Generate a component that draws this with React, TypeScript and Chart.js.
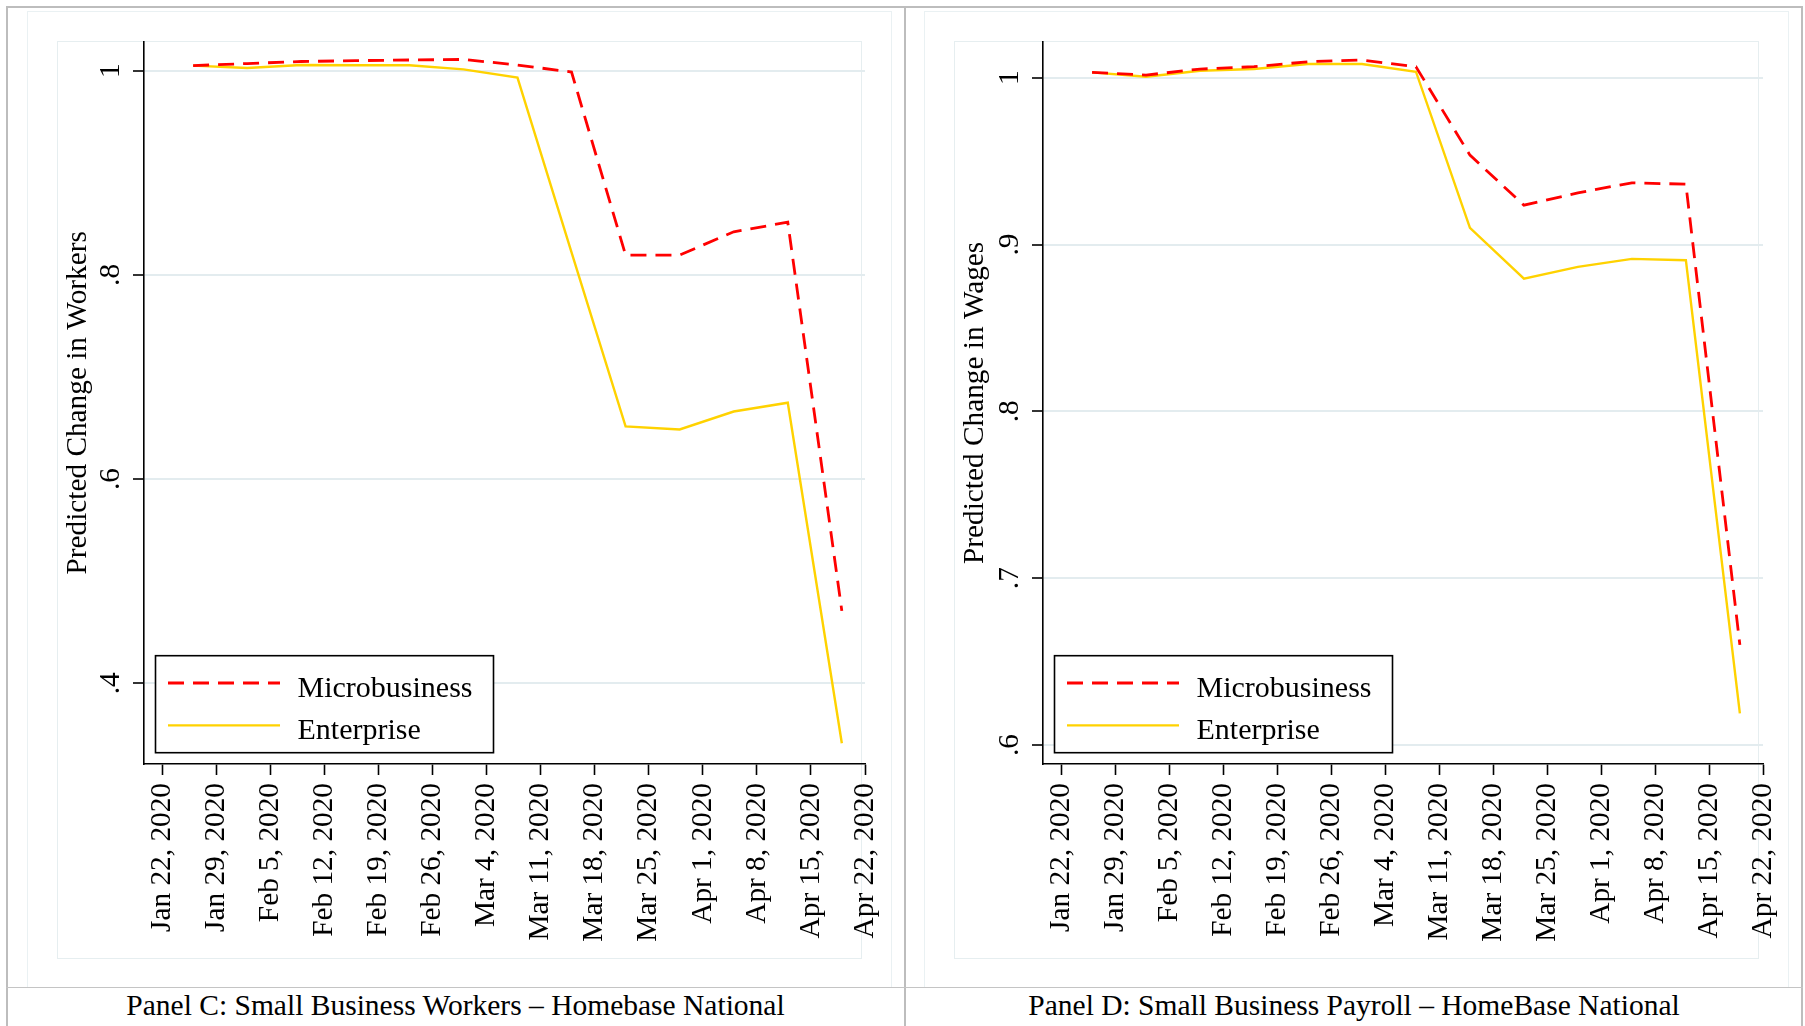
import React, { useEffect, useRef } from "react";
import { Chart, registerables } from "chart.js";

Chart.register(...registerables);

// ---------------- DATA ----------------
const weekDates = [
  "2020-01-26", "2020-02-02", "2020-02-09", "2020-02-16", "2020-02-23",
  "2020-03-01", "2020-03-08", "2020-03-15", "2020-03-22", "2020-03-29",
  "2020-04-05", "2020-04-12", "2020-04-19",
];

const workersMicro = [1.005, 1.007, 1.009, 1.0098, 1.0105, 1.011, 1.0056, 0.9987, 0.8194, 0.8194, 0.8422, 0.8516, 0.471];
const workersEnterprise = [1.005, 1.0026, 1.0056, 1.0053, 1.0053, 1.0013, 0.9932, 0.822, 0.6516, 0.6486, 0.6662, 0.6748, 0.3413];

const wagesMicro = [1.0032, 1.0016, 1.0052, 1.0066, 1.0096, 1.0106, 1.0066, 0.9536, 0.9236, 0.931, 0.937, 0.9362, 0.66];
const wagesEnterprise = [1.0032, 1.0006, 1.0042, 1.0052, 1.0082, 1.0082, 1.0036, 0.91, 0.8796, 0.8866, 0.8914, 0.8906, 0.619];

const seriesLabels = ["Microbusiness", "Enterprise"];

const xTickDates = [
  "2020-01-22", "2020-01-29", "2020-02-05", "2020-02-12", "2020-02-19", "2020-02-26",
  "2020-03-04", "2020-03-11", "2020-03-18", "2020-03-25", "2020-04-01", "2020-04-08",
  "2020-04-15", "2020-04-22",
];
const xTickLabels = [
  "Jan 22, 2020", "Jan 29, 2020", "Feb 5, 2020", "Feb 12, 2020", "Feb 19, 2020", "Feb 26, 2020",
  "Mar 4, 2020", "Mar 11, 2020", "Mar 18, 2020", "Mar 25, 2020", "Apr 1, 2020", "Apr 8, 2020",
  "Apr 15, 2020", "Apr 22, 2020",
];

const workersTicks = [0.4, 0.6, 0.8, 1];
const workersTickLabels = [".4", ".6", ".8", "1"];
const wagesTicks = [0.6, 0.7, 0.8, 0.9, 1];
const wagesTickLabels = [".6", ".7", ".8", ".9", "1"];

const workersTitle = "Predicted Change in Workers";
const wagesTitle = "Predicted Change in Wages";
const captionC = "Panel C: Small Business Workers \u2013 Homebase National";
const captionD = "Panel D: Small Business Payroll \u2013 HomeBase National";

// ---------------- HELPERS ----------------
const ORIGIN = Date.parse("2020-01-22");
const dayOf = (s: string) => (Date.parse(s) - ORIGIN) / 86400000;

const FONT = "'Liberation Serif', 'Times New Roman', serif";
const RED = "#ff0000";
const GOLD = "#ffd200";
const GRID = "#e3ecef";

const legendPlugin = {
  id: "boxLegend",
  afterDatasetsDraw(chart: any) {
    const { ctx, chartArea } = chart;
    const w = 338;
    const h = 97;
    const left = chartArea.left + 11.5;
    const top = chartArea.bottom - 11.3 - h;
    ctx.save();
    ctx.fillStyle = "#ffffff";
    ctx.fillRect(left, top, w, h);
    ctx.strokeStyle = "#000000";
    ctx.lineWidth = 1.6;
    ctx.strokeRect(left, top, w, h);
    chart.data.datasets.forEach((ds: any, i: number) => {
      const ly = top + 27.3 + i * 42.4;
      ctx.beginPath();
      ctx.setLineDash(ds.borderDash || []);
      ctx.strokeStyle = ds.borderColor;
      ctx.lineWidth = ds.borderWidth;
      ctx.moveTo(left + 12.5, ly);
      ctx.lineTo(left + 124.5, ly);
      ctx.stroke();
      ctx.setLineDash([]);
      ctx.fillStyle = "#000000";
      ctx.font = `30px ${FONT}`;
      ctx.textAlign = "left";
      ctx.textBaseline = "alphabetic";
      ctx.fillText(ds.label, left + 142, top + 41.3 + i * 42);
    });
    ctx.restore();
  },
};

function buildConfig(
  title: string,
  micro: number[],
  ent: number[],
  yMin: number,
  yMax: number,
  yTicks: number[],
  yTickLabels: string[],
  yAxisWidth: number,
  padRight: number
): any {
  const xs = weekDates.map(dayOf);
  const xTickDays = xTickDates.map(dayOf);
  return {
    type: "line",
    data: {
      datasets: [
        {
          label: seriesLabels[0],
          data: xs.map((x, i) => ({ x, y: micro[i] })),
          borderColor: RED,
          borderWidth: 2.8,
          borderDash: [16, 9],
          pointRadius: 0,
          tension: 0,
          fill: false,
        },
        {
          label: seriesLabels[1],
          data: xs.map((x, i) => ({ x, y: ent[i] })),
          borderColor: GOLD,
          borderWidth: 2.4,
          pointRadius: 0,
          tension: 0,
          fill: false,
        },
      ],
    },
    options: {
      animation: false,
      responsive: false,
      maintainAspectRatio: false,
      devicePixelRatio: 1,
      layout: { padding: { left: 30, right: padRight, top: 29.7, bottom: 43 } },
      plugins: { legend: { display: false }, tooltip: { enabled: false } },
      scales: {
        x: {
          type: "linear",
          min: -2.36,
          max: 91,
          afterBuildTicks: (s: any) => {
            s.ticks = xTickDays.map((v) => ({ value: v }));
          },
          ticks: {
            autoSkip: false,
            minRotation: 90,
            maxRotation: 90,
            padding: 8,
            color: "#000",
            font: { family: FONT, size: 29.3 },
            callback: (_v: any, i: number) => xTickLabels[i],
          },
          grid: {
            drawOnChartArea: false,
            drawTicks: true,
            tickLength: 11,
            tickColor: "#000",
            tickWidth: 1.6,
          },
          border: { display: true, color: "#000", width: 1.6 },
          afterFit: (s: any) => {
            s.height = 180;
            s.paddingLeft = 0;
            s.paddingRight = 0;
          },
        },
        y: {
          type: "linear",
          min: yMin,
          max: yMax,
          afterBuildTicks: (s: any) => {
            s.ticks = yTicks.map((v) => ({ value: v }));
          },
          ticks: {
            autoSkip: false,
            minRotation: 90,
            maxRotation: 90,
            crossAlign: "center",
            padding: 10.5,
            color: "#000",
            font: { family: FONT, size: 29.3 },
            callback: (_v: any, i: number) => yTickLabels[i],
          },
          grid: {
            color: GRID,
            lineWidth: 2,
            drawTicks: true,
            tickLength: 11,
            tickColor: "#000",
            tickWidth: 1.6,
          },
          border: { display: true, color: "#000", width: 1.6 },
          title: {
            display: true,
            text: title,
            color: "#000",
            font: { family: FONT, size: 29.3, lineHeight: 1 },
            padding: { top: 5.5, bottom: 0 },
          },
          afterFit: (s: any) => {
            s.width = yAxisWidth;
            s.paddingTop = 0;
            s.paddingBottom = 0;
          },
        },
      },
    },
    plugins: [legendPlugin],
  };
}

function ChartPanel({ left, config }: { left: number; config: any }) {
  const ref = useRef<HTMLCanvasElement>(null);
  useEffect(() => {
    if (!ref.current) return;
    const chart = new Chart(ref.current, config);
    return () => chart.destroy();
  }, []);
  return (
    <canvas
      ref={ref}
      width={863}
      height={975}
      style={{ position: "absolute", left, top: 12, width: 863, height: 975 }}
    />
  );
}

const abs = (l: number, t: number, w: number, h: number, extra: any = {}) => ({
  position: "absolute" as const,
  left: l,
  top: t,
  width: w,
  height: h,
  boxSizing: "border-box" as const,
  ...extra,
});

export default function App() {
  const cfgC = buildConfig(workersTitle, workersMicro, workersEnterprise, 0.321, 1.0284, workersTicks, workersTickLabels, 86, 26);
  const cfgD = buildConfig(wagesTitle, wagesMicro, wagesEnterprise, 0.5886, 1.0216, wagesTicks, wagesTickLabels, 88, 25);
  const captionStyle = {
    fontFamily: FONT,
    fontSize: 29.5,
    lineHeight: "36px",
    textAlign: "center" as const,
    color: "#000",
    whiteSpace: "nowrap" as const,
  };
  return (
    <div style={{ position: "absolute", left: 0, top: 0, width: 1805, height: 1026, background: "#fff", overflow: "hidden" }}>
      {/* graph regions */}
      <div style={abs(27, 11, 865, 977, { border: "1.5px solid #eaf1f3" })} />
      <div style={abs(924, 11, 865, 977, { border: "1.5px solid #eaf1f3" })} />
      {/* plot regions */}
      <div style={abs(57, 41, 805, 918, { border: "1.5px solid #e6eef0" })} />
      <div style={abs(954, 41, 805, 918, { border: "1.5px solid #e6eef0" })} />
      {/* outer frame, divider, caption separator */}
      <div style={abs(6, 6, 1797, 1030, { border: "2px solid #bdbdbd" })} />
      <div style={abs(904, 6, 2, 1030, { background: "#bdbdbd" })} />
      <div style={abs(6, 986.5, 1797, 1.5, { background: "#c4c4c4" })} />
      <ChartPanel left={28} config={cfgC} />
      <ChartPanel left={925} config={cfgD} />
      <div style={abs(6, 987, 899, 36, captionStyle)}>{captionC}</div>
      <div style={abs(905, 987, 898, 36, captionStyle)}>{captionD}</div>
    </div>
  );
}
